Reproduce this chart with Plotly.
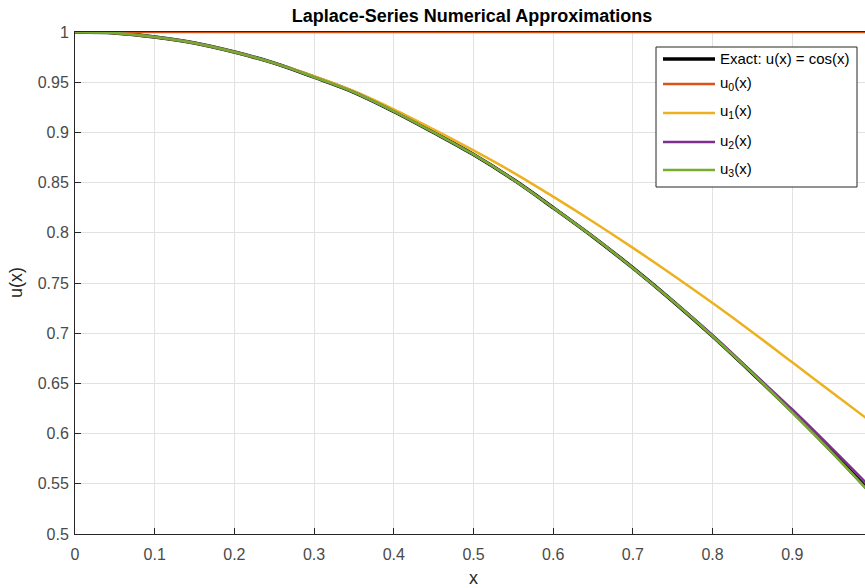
import plotly.graph_objects as go

x_vals = [0.00, 0.05, 0.10, 0.15, 0.20, 0.25, 0.30, 0.35, 0.40, 0.45, 0.50,
          0.55, 0.60, 0.65, 0.70, 0.75, 0.80, 0.85, 0.90, 0.95, 1.00]
exact_vals = [1.000, 0.999, 0.995, 0.989, 0.980, 0.969, 0.955, 0.940, 0.921, 0.900, 0.878,
              0.853, 0.825, 0.796, 0.765, 0.732, 0.697, 0.660, 0.622, 0.582, 0.540]
u0_vals = [1.0] * 21
u1_vals = [1.000, 0.999, 0.995, 0.989, 0.980, 0.969, 0.956, 0.941, 0.923, 0.903, 0.882,
           0.860, 0.836, 0.811, 0.785, 0.758, 0.730, 0.701, 0.671, 0.641, 0.611]
u2_vals = [1.000, 0.999, 0.995, 0.989, 0.980, 0.969, 0.955, 0.940, 0.921, 0.900, 0.878,
           0.853, 0.825, 0.796, 0.765, 0.732, 0.698, 0.661, 0.624, 0.585, 0.545]
u3_vals = [1.000, 0.999, 0.995, 0.989, 0.980, 0.969, 0.955, 0.940, 0.921, 0.900, 0.878,
           0.853, 0.825, 0.796, 0.765, 0.732, 0.697, 0.660, 0.621, 0.581, 0.539]

x_ticks = [0, 0.1, 0.2, 0.3, 0.4, 0.5, 0.6, 0.7, 0.8, 0.9, 1]
y_ticks = [0.5, 0.55, 0.6, 0.65, 0.7, 0.75, 0.8, 0.85, 0.9, 0.95, 1]

names = ["Exact: u(x) = cos(x)", "u<sub>0</sub>(x)", "u<sub>1</sub>(x)",
         "u<sub>2</sub>(x)", "u<sub>3</sub>(x)"]
series_vals = [exact_vals, u0_vals, u1_vals, u2_vals, u3_vals]
colors = ["#000000", "#D95319", "#EDB120", "#7E2F8E", "#77AC30"]
widths = [3.6, 2.5, 2.5, 2.5, 2.6]

FONT = "Liberation Sans, Arial, Helvetica, sans-serif"

fig = go.Figure()
for name, vals, color, w in zip(names, series_vals, colors, widths):
    fig.add_trace(go.Scatter(
        x=x_vals, y=vals, mode="lines", name=name,
        line=dict(color=color, width=w, shape="spline", smoothing=1),
        cliponaxis=False, showlegend=False, hoverinfo="skip",
    ))

axis_common = dict(
    showgrid=True, gridcolor="#e2e2e2", gridwidth=1,
    showline=True, linecolor="#262626", linewidth=1, mirror=True,
    ticks="inside", ticklen=6, tickcolor="#262626",
    tickfont=dict(family=FONT, size=16, color="#4a4a4a"),
    zeroline=False,
)

W, H = 865, 588
# Plot area (page px): x 75..865 (x=1 would fall at 872), y 32..534
PX0, PY0, PY1 = 75, 32, 534
PX_ONE = 872  # pixel where x = 1.0 would be
X_MAX = (W - PX0) / (PX_ONE - PX0)


def px(xp):
    return (xp - PX0) / (W - PX0)


def py(yp):
    return (PY1 - yp) / (PY1 - PY0)


shapes = []
annotations = []

# Legend box
shapes.append(dict(type="rect", xref="paper", yref="paper",
                   x0=px(656), x1=px(857), y0=py(187), y1=py(47),
                   line=dict(color="#262626", width=1), fillcolor="white", layer="above"))
row_y = [59, 84, 113, 142, 170]
for name, color, w, ry in zip(names, colors, widths, row_y):
    shapes.append(dict(type="line", xref="paper", yref="paper",
                       x0=px(663), x1=px(715), y0=py(ry), y1=py(ry),
                       line=dict(color=color, width=w), layer="above"))
    annotations.append(dict(text=name, xref="paper", yref="paper",
                            x=px(718), y=py(ry - 1 if "sub" in name else ry),
                            xanchor="left", yanchor="middle", showarrow=False,
                            font=dict(family=FONT, size=15, color="#000000")))

# Axis titles
annotations.append(dict(text="x", xref="paper", yref="paper", x=px(473), y=py(578),
                        xanchor="center", yanchor="middle", showarrow=False,
                        font=dict(family=FONT, size=18, color="#262626")))
annotations.append(dict(text="u(x)", xref="paper", yref="paper", x=px(16), y=0.5,
                        xanchor="center", yanchor="middle", showarrow=False, textangle=-90,
                        font=dict(family=FONT, size=18, color="#262626")))

fig.update_layout(
    width=W, height=H,
    margin=dict(l=PX0, r=0, t=PY0, b=H - PY1),
    paper_bgcolor="white", plot_bgcolor="white",
    title=dict(text="<b>Laplace-Series Numerical Approximations</b>",
               x=472 / W, xanchor="center", y=1 - 16 / H, yanchor="middle",
               font=dict(family=FONT, size=18, color="#000000")),
    xaxis=dict(range=[0, X_MAX], tickvals=x_ticks, ticktext=[f"{v:g}" for v in x_ticks],
               ticklabelstandoff=6, **axis_common),
    yaxis=dict(range=[0.5, 1.0], tickvals=y_ticks, ticktext=[f"{v:g}" for v in y_ticks],
               ticklabelstandoff=2, **axis_common),
    shapes=shapes,
    annotations=annotations,
    showlegend=False,
)

fig.write_html(
    "out.html",
    config={"displayModeBar": False},
    post_script="document.body.style.margin='0';document.body.style.overflow='hidden';",
)
